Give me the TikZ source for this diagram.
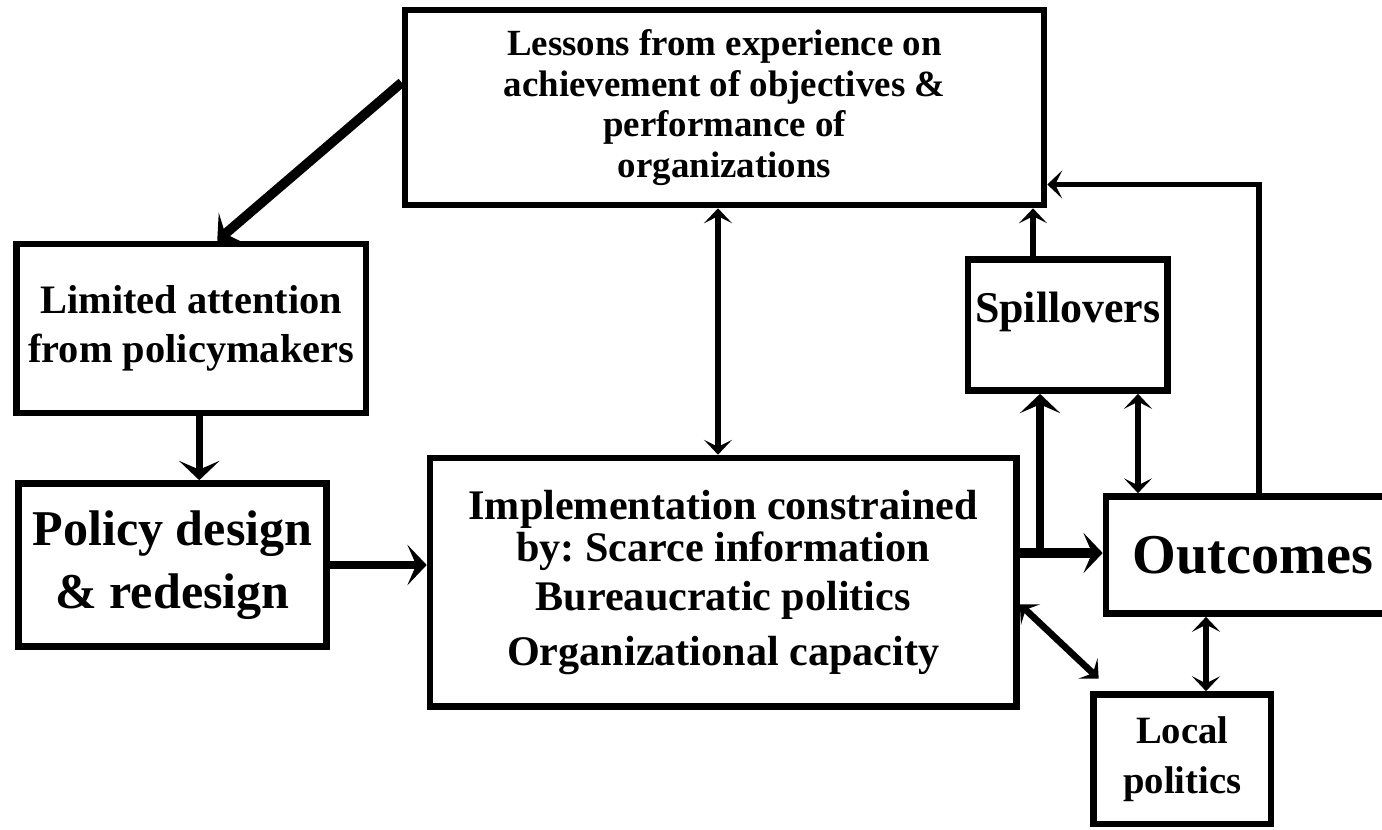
\documentclass[tikz,border=0pt]{standalone}
\usepackage{fontspec}
\setmainfont{Liberation Serif}
\usetikzlibrary{arrows.meta}
\frenchspacing
\def\zh#1#2{\fontsize{#1}{#2}\selectfont\bfseries}

\begin{document}
\begin{tikzpicture}[x=0.02cm,y=-0.02cm,
	box/.style={draw=black,line width=3.8pt,inner sep=0pt,align=center},
	fat/.style={line width=5.5pt,-{Stealth[length=11pt,width=23pt,inset=5pt]}},
	slim/.style={line width=3pt,-{Stealth[length=8.5pt,width=16pt,inset=4pt]}},
	slimboth/.style={line width=3pt,{Stealth[length=8.5pt,width=16pt,inset=4pt]}-{Stealth[length=8.5pt,width=16pt,inset=4pt]}}]
	\useasboundingbox (0,0) rectangle (1382,829);
	%方框,坐标按像素给出
	\node[box,font=\zh{21}{23.2},minimum width=12.78cm,minimum height=3.9cm] (lessons) at (724.5,107.5)
		{Lessons from experience on\\achievement of objectives \&\\performance of\\organizations};
	\node[box,font=\zh{23}{28},minimum width=6.99cm,minimum height=3.38cm] (limited) at (191.25,328.5)
		{Limited attention\\from policymakers};
	\node[box,font=\zh{28.5}{35.7},minimum width=6.16cm,minimum height=3.26cm] (policy) at (172.5,565)
		{Policy design\\\& redesign};
	\node[box,font=\zh{24}{24},minimum width=11.73cm,minimum height=4.97cm] (impl) at (723.25,582.25)
		{Implementation constrained\\by: Scarce information\\[4pt]Bureaucratic politics\\[7pt]Organizational capacity};
	\node[box,font=\zh{25}{30},minimum width=3.99cm,minimum height=2.62cm] (spill) at (1067.75,325)
		{\raisebox{1.7pt}[0pt][0pt]{Spillovers}};
	%右边框在图外
	\node[box,font=\zh{32}{38},minimum width=5.88cm,minimum height=2.34cm] (outcomes) at (1253,555)
		{Outcomes};
	\node[box,font=\zh{22}{28},minimum width=3.55cm,minimum height=2.59cm] (local) at (1182.25,759.25)
		{Local\\politics};
	%箭头
	\draw[fat] ([yshift=0.5cm]lessons.west) -- ([xshift=0.52cm]limited.north);
	\coordinate (a) at ([xshift=0.16cm]limited.south);
	\draw[fat,line width=4pt] (a) -- (a |- policy.north);
	\draw[fat,line width=4.5pt] (policy.east) -- (policy.east -| impl.west);
	\coordinate (m) at ([xshift=-0.13cm]lessons.south);
	\draw[slimboth,line width=3.6pt] (m) -- (m |- impl.north);
	%实施到结果,中途分支到Spillovers
	\coordinate (c) at ([yshift=0.585cm]impl.east);
	\draw[fat,line width=5.7pt] (c) -- (c -| outcomes.west);
	\coordinate (s1) at ([xshift=-0.555cm]spill.south);
	\draw[fat,line width=5pt] (s1 |- c) -- (s1);
	\coordinate (s2) at ([xshift=-0.695cm]spill.north);
	\draw[slim,line width=3.4pt] (s2) -- (s2 |- lessons.south);
	\coordinate (s3) at ([xshift=1.405cm]spill.south);
	\draw[slimboth] (s3) -- (s3 |- outcomes.north);
	%反馈线
	\coordinate (o1) at ([xshift=0.12cm]outcomes.north);
	\coordinate (l1) at ([yshift=-1.54cm]lessons.east);
	\draw[slim] (o1) |- (l1);
	\draw[slimboth,line width=3.8pt] ([yshift=-0.44cm]impl.east) -- ([xshift=0.17cm,yshift=0.25cm]local.north west);
	\coordinate (o2) at ([xshift=-0.94cm]outcomes.south);
	\draw[slimboth,line width=3.8pt] (o2) -- (o2 |- local.north);
\end{tikzpicture}
\end{document}
